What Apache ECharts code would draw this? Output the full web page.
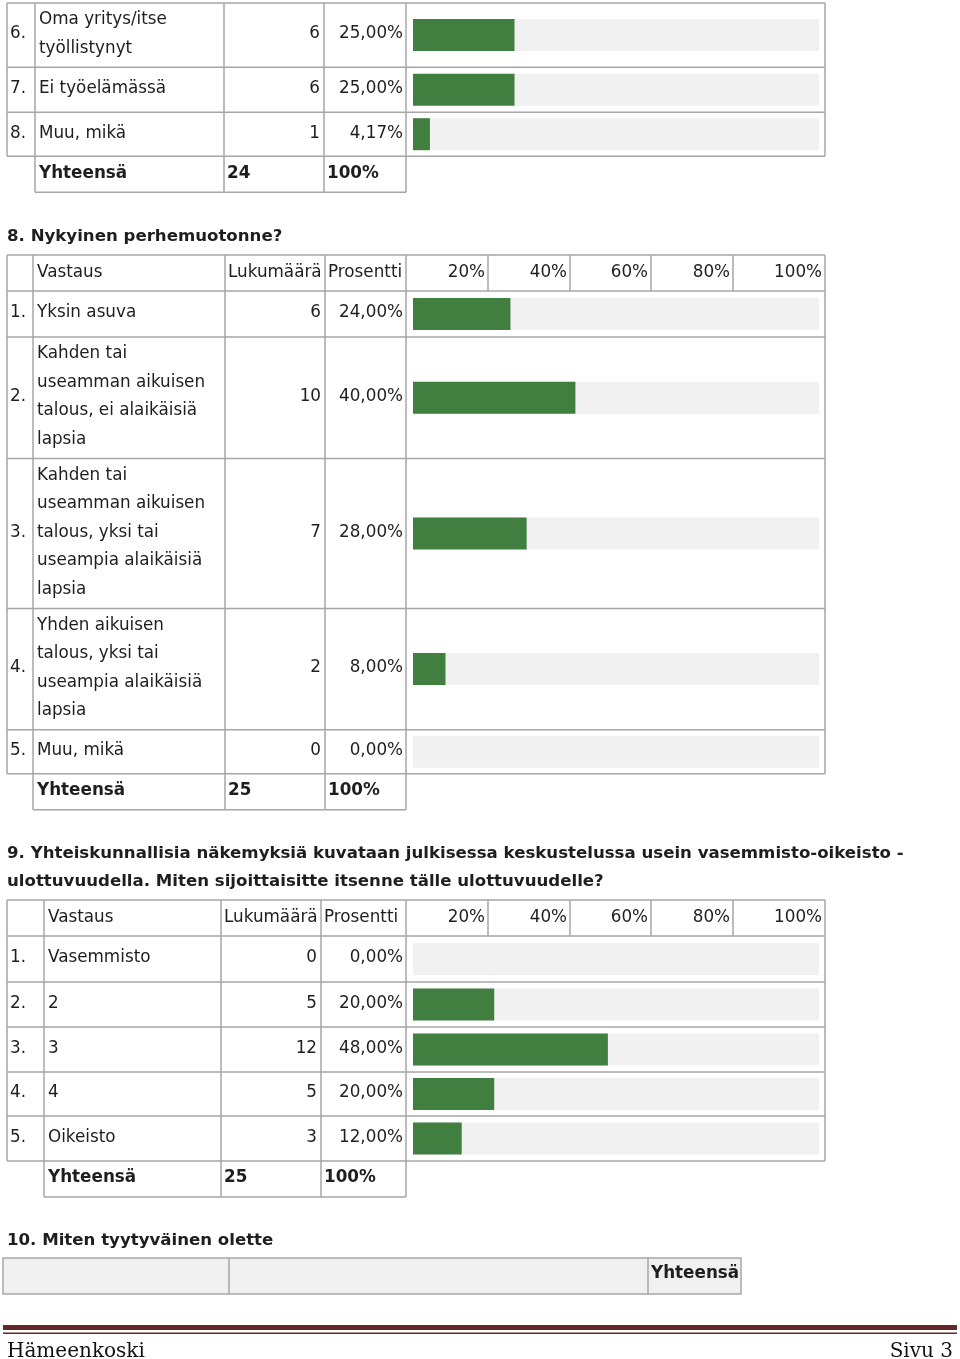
<!DOCTYPE html>
<html><head><meta charset="utf-8">
<style>html,body{margin:0;padding:0;background:#fff}#c{width:960px;height:1359px}</style>
<script src="https://cdn.jsdelivr.net/npm/echarts@6/dist/echarts.min.js"></script>
</head><body><div id="c"></div>
<script>
// ---------- data ----------
const t1Nums = ['6.', '7.', '8.'];
const t1Labels = ['Oma yritys/itse\ntyöllistynyt', 'Ei työelämässä', 'Muu, mikä'];
const t1Counts = [6, 6, 1];
const t1Pcts = [25.00, 25.00, 4.17];
const t1Total = 24;

const t2Title = '8. Nykyinen perhemuotonne?';
const t2Nums = ['1.', '2.', '3.', '4.', '5.'];
const t2Labels = ['Yksin asuva',
  'Kahden tai\nuseamman aikuisen\ntalous, ei alaikäisiä\nlapsia',
  'Kahden tai\nuseamman aikuisen\ntalous, yksi tai\nuseampia alaikäisiä\nlapsia',
  'Yhden aikuisen\ntalous, yksi tai\nuseampia alaikäisiä\nlapsia',
  'Muu, mikä'];
const t2Counts = [6, 10, 7, 2, 0];
const t2Pcts = [24, 40, 28, 8, 0];
const t2Total = 25;

const t3Title = '9. Yhteiskunnallisia näkemyksiä kuvataan julkisessa keskustelussa usein vasemmisto-oikeisto -\nulottuvuudella. Miten sijoittaisitte itsenne tälle ulottuvuudelle?';
const t3Nums = ['1.', '2.', '3.', '4.', '5.'];
const t3Labels = ['Vasemmisto', '2', '3', '4', 'Oikeisto'];
const t3Counts = [0, 5, 12, 5, 3];
const t3Pcts = [0, 20, 48, 20, 12];
const t3Total = 25;

const headers = ['Vastaus', 'Lukumäärä', 'Prosentti'];
const scaleTicks = ['20%', '40%', '60%', '80%', '100%'];
const totalLabel = 'Yhteensä';
const totalPct = '100%';
const t4Title = '10. Miten tyytyväinen olette';
const footerLeft = 'Hämeenkoski';
const footerRight = 'Sivu 3';

// ---------- layout / style ----------
const FONT = '"DejaVu Sans", Verdana, sans-serif';
const FS = 16.8;
const HFS = 16.6;
const TXT = '#1e1e1e';
const LINE = '#a6a6a6';
const LW = 1.5;
const GREEN = '#417f41';
const TRACK = '#f1f1f1';
const X0 = 7, XE = 825;
const BAR_L = 413, BAR_R = 819;
const SCALE_COLS = [488, 570, 651, 733, 825];

const graphics = [];
const grids = [], xAxes = [], yAxes = [], series = [];

function hline(x1, x2, y) {
  graphics.push({type: 'line', silent: true, shape: {x1: x1, y1: y, x2: x2, y2: y}, style: {stroke: LINE, lineWidth: LW}});
}
function vline(x, y1, y2) {
  graphics.push({type: 'line', silent: true, shape: {x1: x, y1: y1, x2: x, y2: y2}, style: {stroke: LINE, lineWidth: LW}});
}
function text(x, y, t, align, bold, extra) {
  graphics.push({type: 'text', silent: true, x: x, y: y, style: Object.assign({
    text: String(t), font: (bold ? 'bold ' : '') + FS + 'px ' + FONT, fill: TXT,
    align: align || 'left', verticalAlign: 'middle', lineHeight: 28.5
  }, extra || {})});
}
function heading(y, t) {
  text(X0, y, t, 'left', true, {font: 'bold ' + HFS + 'px ' + FONT, lineHeight: 28});
}
function fmtPct(p) { return p.toFixed(2).replace('.', ',') + '%'; }

function addBar(pct, cy) {
  const i = grids.length;
  grids.push({left: BAR_L, width: BAR_R - BAR_L, top: cy - 16, height: 32});
  xAxes.push({type: 'value', gridIndex: i, min: 0, max: 100, show: false});
  yAxes.push({type: 'category', gridIndex: i, data: [''], show: false});
  series.push({type: 'bar', xAxisIndex: i, yAxisIndex: i, data: [pct], barWidth: 32,
    showBackground: true, backgroundStyle: {color: TRACK}, itemStyle: {color: GREEN},
    silent: true, animation: false});
}

function drawTable(cfg) {
  const [c1, c2, c3, c4] = cfg.cols;
  const top = cfg.top;
  let y = top;
  hline(X0, XE, y);
  if (cfg.header) {
    const h = 36, cy = y + h / 2;
    text(c1 + 4, cy, headers[0]);
    text(c2 + 3, cy, headers[1]);
    text(c3 + 3, cy, headers[2]);
    scaleTicks.forEach((t, k) => text(SCALE_COLS[k] - 3, cy, t, 'right'));
    SCALE_COLS.slice(0, 4).forEach(x => vline(x, y, y + h));
    y += h;
    hline(X0, XE, y);
  }
  cfg.labels.forEach((lab, i) => {
    const lines = lab.split('\n').length;
    const h = lines > 1 ? lines * 28.6 + 7 : cfg.single[i];
    const cy = y + h / 2;
    text(X0 + 3, cy - 1, cfg.nums[i]);
    text(c1 + 4, cy - 1, lab);
    text(c3 - 4, cy - 1, cfg.counts[i], 'right');
    text(c4 - 3, cy - 1, fmtPct(cfg.pcts[i]), 'right');
    addBar(cfg.pcts[i], cy);
    y += h;
    hline(X0, XE, y);
  });
  const bodyBottom = y;
  const h = 36, cy = y + h / 2 - 1;
  text(c1 + 4, cy, totalLabel, 'left', true);
  text(c2 + 3, cy, cfg.total, 'left', true);
  text(c3 + 3, cy, totalPct, 'left', true);
  y += h;
  hline(c1, c4, y);
  vline(X0, top, bodyBottom);
  vline(XE, top, bodyBottom);
  [c1, c2, c3, c4].forEach(x => vline(x, top, y));
  return y;
}

// Table 1 (continuation)
drawTable({top: 3, cols: [35, 224, 324, 406], header: false, nums: t1Nums, labels: t1Labels,
  counts: t1Counts, pcts: t1Pcts, total: t1Total, single: [46, 45, 44]});

// Question 8
heading(237, t2Title);
drawTable({top: 255, cols: [33, 225, 325, 406], header: true, nums: t2Nums, labels: t2Labels,
  counts: t2Counts, pcts: t2Pcts, total: t2Total, single: [46, 46, 46, 46, 44]});

// Question 9
heading(868, t3Title);
drawTable({top: 900, cols: [44, 221, 321, 406], header: true, nums: t3Nums, labels: t3Labels,
  counts: t3Counts, pcts: t3Pcts, total: t3Total, single: [46, 45, 45, 44, 45]});

// Question 10
heading(1241, t4Title);
graphics.push({type: 'rect', silent: true, shape: {x: 3, y: 1258, width: 738, height: 36},
  style: {fill: '#f0f0f0', stroke: LINE, lineWidth: LW}});
vline(229, 1258, 1294);
vline(648, 1258, 1294);
text(651, 1274, totalLabel, 'left', true);

// Footer
graphics.push({type: 'rect', silent: true, shape: {x: 3, y: 1325, width: 954, height: 5}, style: {fill: '#652828'}});
graphics.push({type: 'rect', silent: true, shape: {x: 3, y: 1332.5, width: 954, height: 1.5}, style: {fill: '#652828'}});
text(7, 1352, footerLeft, 'left', false, {font: '20px "DejaVu Serif", serif', fill: '#111'});
text(953, 1352, footerRight, 'right', false, {font: '20px "DejaVu Serif", serif', fill: '#111'});

const chart = echarts.init(document.getElementById('c'), null, {renderer: 'canvas'});
chart.setOption({
  backgroundColor: '#fff',
  animation: false,
  grid: grids, xAxis: xAxes, yAxis: yAxes, series: series,
  graphic: {elements: graphics}
});
</script>
</body></html>
